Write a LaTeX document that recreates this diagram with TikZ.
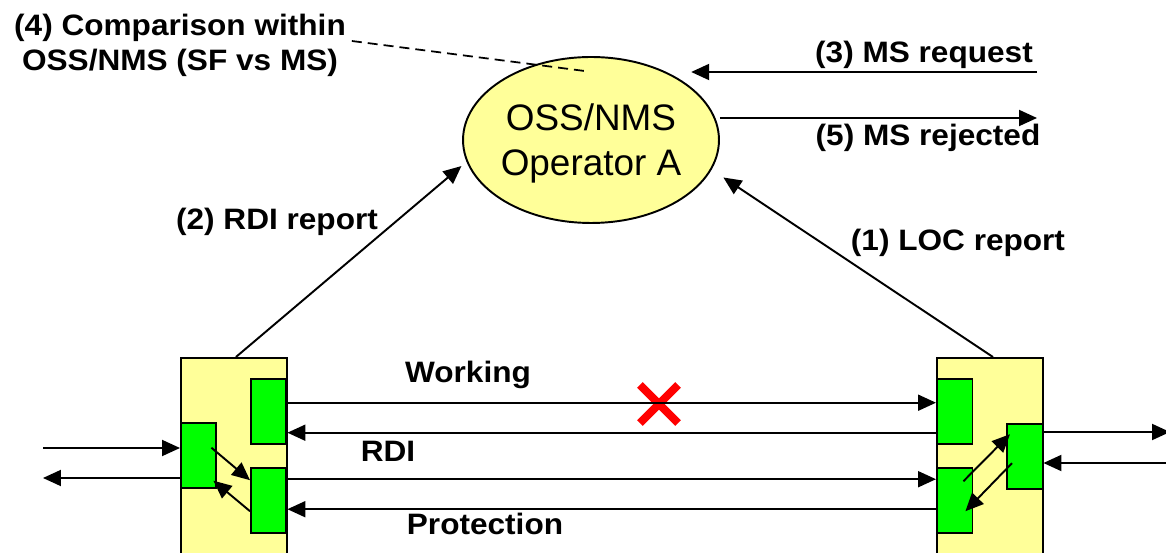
\documentclass[tikz,border=0pt]{standalone}
\usepackage{fontspec}
\setmainfont{Liberation Sans}
\usepackage{tikz}
\usetikzlibrary{arrows.meta,shapes.geometric,shapes.misc}
\definecolor{paleyel}{HTML}{FFFF99}
\definecolor{brgreen}{HTML}{00FF00}

\begin{document}
\begin{tikzpicture}[x=0.02cm,y=-0.02cm,>={Triangle[length=0.36cm,width=0.32cm]},line width=1.1pt,
  nebox/.style={draw,fill=paleyel,anchor=north west,minimum width=2.12cm,minimum height=5cm,inner sep=0pt},
  cardbox/.style={draw,fill=brgreen,anchor=north west,minimum width=0.71cm,minimum height=1.31cm,inner sep=0pt},
  lbl/.style={font=\fontsize{16.8}{19.9}\selectfont\bfseries,xscale=1.07,inner sep=0pt,align=center}]
\fill[white] (0,0) rectangle (1166,553);
\path[clip,use as bounding box] (0,0) rectangle (1166,553);
\node[nebox] (lne) at (180,357) {};
\node[nebox] (rne) at (936,357) {};
\node[cardbox] (lw) at (250,378) {};
\node[cardbox] (lp) at (250,467) {};
\node[cardbox] (lc) at (180,422) {};
\node[cardbox] (rw) at (936,378) {};
\node[cardbox] (rp) at (936,467) {};
\node[cardbox] (rc) at (1006,423) {};
\node[ellipse,draw,fill=paleyel,minimum width=5.12cm,minimum height=3.32cm,inner sep=0pt,
  font=\fontsize{21}{25.6}\selectfont,align=center,text depth=0pt] (oss) at (591,140) {OSS/NMS\\Operator A};
\node[lbl] (cmp) at (180,45) {(4) Comparison within\\OSS/NMS (SF vs MS)};
\node[lbl] (req) at (924,55) {(3) MS request};
\node[lbl] (rej) at (928,138) {(5) MS rejected};
\node[lbl] (rdirep) at (277,222) {(2) RDI report};
\node[lbl] (locrep) at (958,243) {(1) LOC report};
\node[lbl] (wk) at (468,375) {Working};
\node[lbl] (rdi) at (388,451) {RDI};
\node[lbl] (prot) at (485,524) {Protection};
\node[cross out,draw=red,line width=4.6pt,minimum size=0.6cm,inner sep=0pt] (cut) at (659,404) {};
\coordinate (lin) at (43,448);
\coordinate (lout) at (43,478);
\coordinate (rout) at (1170,432);
\coordinate (rin) at (1170,463);
\coordinate (msq) at (1037,72);
\coordinate (msr) at (1037,118);
\draw[->] (lin) -- (lin -| lc.west);
\draw[->] (lout -| lc.west) -- (lout);
\draw[->] (rout -| rc.east) -- (rout);
\draw[->] (rin) -- (rin -| rc.east);
\draw[->] ([yshift=0.18cm]lw.east) -- ([yshift=0.18cm]rw.west);
\draw[->] ([yshift=-0.42cm]rw.west) -- ([yshift=-0.42cm]lw.east);
\draw[->] ([yshift=0.43cm]lp.east) -- ([yshift=0.43cm]rp.west);
\draw[->] ([yshift=-0.17cm]rp.west) -- ([yshift=-0.17cm]lp.east);
\draw[->] ([xshift=-0.12cm,yshift=0.16cm]lc.east) -- ([yshift=0.41cm]lp.west);
\draw[->] ([yshift=-0.21cm]lp.west) -- ([xshift=-0.08cm,yshift=-0.5cm]lc.east);
\draw[->] ([xshift=-0.2cm,yshift=0.39cm]rp.east) -- ([xshift=0.08cm,yshift=0.45cm]rc.west);
\draw[->] ([xshift=0.12cm,yshift=-0.13cm]rc.west) -- ([xshift=-0.16cm,yshift=-0.21cm]rp.east);
\draw[->] ([xshift=0.04cm]lne.north) -- ([xshift=-0.14cm]oss.192);
\draw[->] ([xshift=0.06cm]rne.north) -- ([xshift=0.34cm]oss.-18);
\draw[->,shorten >=0.18cm] (msq) -- (msq -| oss.north east);
\draw[->] (msr -| oss.east) -- (msr);
\draw[line width=1pt,dash pattern=on 0.2cm off 0.12cm] ([xshift=0.1cm,yshift=0.08cm]cmp.east) -- ([xshift=-0.12cm,yshift=-0.3cm]oss.north);
\end{tikzpicture}
\end{document}
